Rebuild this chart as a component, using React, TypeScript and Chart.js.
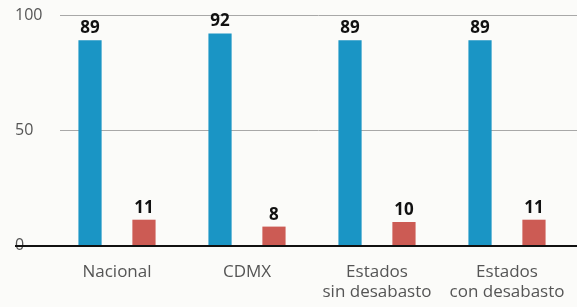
import React, { useEffect, useRef } from "react";
import { Chart, registerables } from "chart.js";

Chart.register(...registerables);

const categories: (string | string[])[] = [
  "Nacional",
  "CDMX",
  ["Estados", "sin desabasto"],
  ["Estados", "con desabasto"],
];
const seriesBlue = [89, 92, 89, 89];
const seriesRed = [11, 8, 10, 11];
const yTicks = [0, 50, 100];

const BLUE = "#1a95c5";
const RED = "#cc5b54";

const decorPlugin = {
  id: "decor",
  beforeDatasetsDraw(chart: any) {
    const { ctx, scales, width } = chart;
    const y = scales.y;
    ctx.save();
    ctx.strokeStyle = "#a8a8a8";
    ctx.lineWidth = 1;
    [50, 100].forEach((v) => {
      const py = Math.round(y.getPixelForValue(v)) + 0.5;
      ctx.beginPath();
      ctx.moveTo(60, py);
      ctx.lineTo(width, py);
      ctx.stroke();
    });
    ctx.restore();
  },
  afterDatasetsDraw(chart: any) {
    const { ctx, scales, width } = chart;
    const y = scales.y;
    ctx.save();
    ctx.strokeStyle = "#111";
    ctx.lineWidth = 2;
    const py = Math.round(y.getPixelForValue(0)) + 1;
    ctx.beginPath();
    ctx.moveTo(15, py);
    ctx.lineTo(width, py);
    ctx.stroke();

    ctx.fillStyle = "#111";
    ctx.font = "bold 17px 'Open Sans', 'Noto Sans', sans-serif";
    ctx.textAlign = "center";
    ctx.textBaseline = "alphabetic";
    chart.data.datasets.forEach((ds: any, i: number) => {
      const meta = chart.getDatasetMeta(i);
      meta.data.forEach((el: any, j: number) => {
        ctx.fillText(String(ds.data[j]), el.x, el.y - 7);
      });
    });
    ctx.restore();
  },
};

export default function App() {
  const ref = useRef<HTMLCanvasElement | null>(null);
  useEffect(() => {
    document.body.style.margin = "0";
    document.body.style.background = "#fbfbf9";
    if (!ref.current) return;
    const chart = new Chart(ref.current, {
      type: "bar",
      data: {
        labels: categories,
        datasets: [
          { data: seriesBlue, backgroundColor: BLUE },
          { data: seriesRed, backgroundColor: RED },
        ],
      },
      options: {
        animation: false,
        responsive: false,
        layout: { padding: { left: 15, right: 5, top: 15, bottom: 0 } },
        datasets: { bar: { categoryPercentage: 0.83, barPercentage: 0.43 } },
        plugins: { legend: { display: false }, tooltip: { enabled: false } },
        scales: {
          x: {
            grid: { display: false },
            border: { display: false },
            ticks: {
              color: "#555",
              padding: 9,
              font: { family: "'Open Sans', 'Noto Sans', sans-serif", size: 17, lineHeight: 1.2 },
              maxRotation: 0,
              autoSkip: false,
            },
            afterFit(scale: any) {
              scale.height = 62;
            },
          },
          y: {
            min: 0,
            max: 100,
            grid: { display: false },
            border: { display: false },
            afterBuildTicks(scale: any) {
              scale.ticks = yTicks.map((v) => ({ value: v }));
            },
            ticks: {
              color: "#555",
              crossAlign: "far",
              padding: 0,
              font: { family: "'Open Sans', 'Noto Sans', sans-serif", size: 16 },
            },
            afterFit(scale: any) {
              scale.width = 37;
            },
          },
        },
      },
      plugins: [decorPlugin],
    });
    return () => chart.destroy();
  }, []);
  return (
    <div style={{ width: 577, height: 307 }}>
      <canvas ref={ref} width={577} height={307} />
    </div>
  );
}
